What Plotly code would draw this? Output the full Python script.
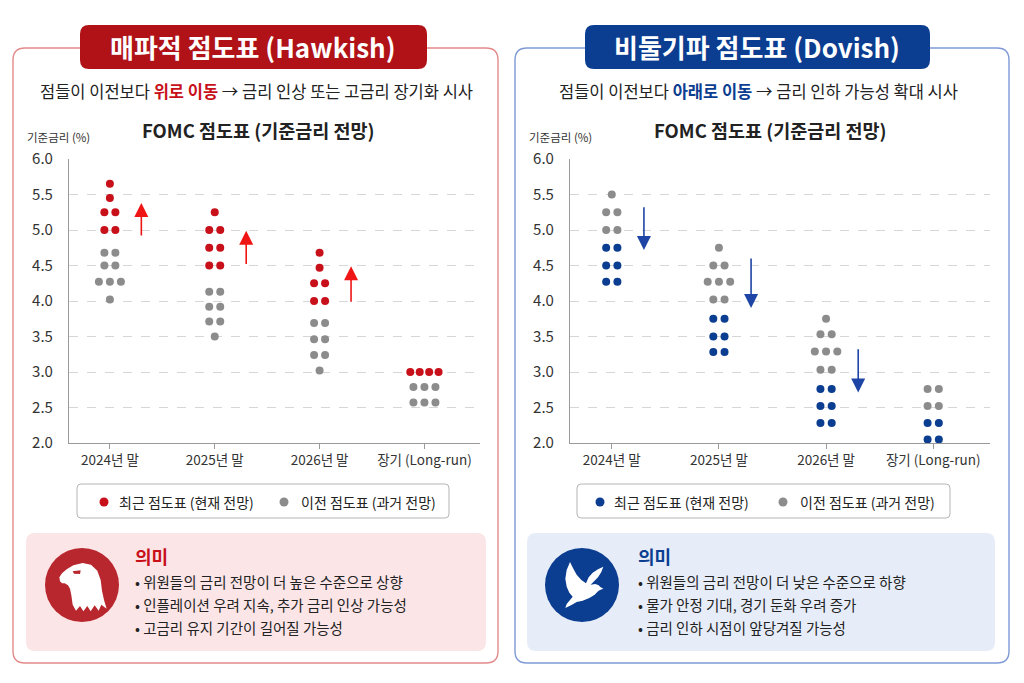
import plotly.graph_objects as go

W, H = 1024, 683
FONT = "Noto Sans CJK KR"

# ---- data ----
categories = ["2024년 말", "2025년 말", "2026년 말", "장기 (Long-run)"]
y_ticks = [2.0, 2.5, 3.0, 3.5, 4.0, 4.5, 5.0, 5.5, 6.0]

hawk_recent = [
    [5.65, 5.45, 5.25, 5.25, 5.0, 5.0],
    [5.25, 5.0, 5.0, 4.75, 4.75, 4.5, 4.5],
    [4.68, 4.47, 4.25, 4.25, 4.0, 4.0],
    [3.0, 3.0, 3.0, 3.0],
]
hawk_prior = [
    [4.68, 4.68, 4.5, 4.5, 4.27, 4.27, 4.27, 4.02],
    [4.13, 4.13, 3.92, 3.92, 3.71, 3.71, 3.5],
    [3.69, 3.69, 3.46, 3.46, 3.24, 3.24, 3.02],
    [2.79, 2.79, 2.79, 2.57, 2.57, 2.57],
]
dove_recent = [
    [4.75, 4.75, 4.5, 4.5, 4.27, 4.27],
    [3.75, 3.75, 3.5, 3.5, 3.28, 3.28],
    [2.76, 2.76, 2.52, 2.52, 2.28, 2.28],
    [2.28, 2.28, 2.05, 2.05],
]
dove_prior = [
    [5.5, 5.25, 5.25, 5.0, 5.0],
    [4.75, 4.5, 4.5, 4.27, 4.27, 4.27, 4.02, 4.02],
    [3.75, 3.53, 3.53, 3.29, 3.29, 3.29, 3.03, 3.03],
    [2.76, 2.76, 2.52, 2.52],
]

# arrows: from / to rate, one per year column
hawk_arrow_from = [4.9, 4.5, 3.97]
hawk_arrow_to = [5.38, 4.99, 4.49]
dove_arrow_from = [5.34, 4.62, 3.34]
dove_arrow_to = [4.72, 3.9, 2.71]

hawk_bullets = ["• 위원들의 금리 전망이 더 높은 수준으로 상향",
                "• 인플레이션 우려 지속, 추가 금리 인상 가능성",
                "• 고금리 유지 기간이 길어질 가능성"]
dove_bullets = ["• 위원들의 금리 전망이 더 낮은 수준으로 하향",
                "• 물가 안정 기대, 경기 둔화 우려 증가",
                "• 금리 인하 시점이 앞당겨질 가능성"]

RED = "#c8101a"
RED_DARK = "#b01218"
BLUE = "#0b3d91"
GREY = "#8c8c8c"
TXT = "#222222"


def X(p):
    return p / W


def Y(p):
    return 1 - p / H


def rrect(x0, y0, x1, y1, r):
    return (f"M{X(x0+r)},{Y(y0)} L{X(x1-r)},{Y(y0)} Q{X(x1)},{Y(y0)} {X(x1)},{Y(y0+r)} "
            f"L{X(x1)},{Y(y1-r)} Q{X(x1)},{Y(y1)} {X(x1-r)},{Y(y1)} "
            f"L{X(x0+r)},{Y(y1)} Q{X(x0)},{Y(y1)} {X(x0)},{Y(y1-r)} "
            f"L{X(x0)},{Y(y0+r)} Q{X(x0)},{Y(y0)} {X(x0+r)},{Y(y0)} Z")


def poly(pts, ox, oy):
    # icon outlines are traced at 3x scale
    s = "M" + " L".join(f"{X(ox + a / 3)},{Y(oy + b / 3)}" for a, b in pts)
    return s + " Z"


def spread(columns):
    xs, ys = [], []
    for i, col in enumerate(columns):
        groups = {}
        for v in col:
            groups.setdefault(round(v, 2), []).append(v)
        for v, g in groups.items():
            n = len(g)
            step = 0.105 if n < 4 else 0.09
            for k in range(n):
                xs.append(i + (k - (n - 1) / 2) * step)
                ys.append(v)
    return xs, ys


def note(x, y, text, size, color=TXT, xanchor="center"):
    return dict(x=X(x), y=Y(y), xref="paper", yref="paper", text=text, showarrow=False,
                xanchor=xanchor, yanchor="middle", font=dict(size=size, color=color, family=FONT))


fig = go.Figure()

for recent, prior, col, xa, ya in [(hawk_recent, hawk_prior, RED, "x", "y"),
                                   (dove_recent, dove_prior, BLUE, "x2", "y2")]:
    px_, py_ = spread(prior)
    fig.add_trace(go.Scatter(x=px_, y=py_, mode="markers", xaxis=xa, yaxis=ya,
                             marker=dict(color=GREY, size=8), showlegend=False))
    rx, ry = spread(recent)
    fig.add_trace(go.Scatter(x=rx, y=ry, mode="markers", xaxis=xa, yaxis=ya,
                             marker=dict(color=col, size=8), showlegend=False))

axis_x = dict(range=[-0.39, 3.53], tickvals=[0, 1, 2, 3], ticktext=categories,
              showgrid=False, showline=True, linecolor="#9a9a9a", linewidth=1.2,
              ticks="outside", ticklen=5, tickcolor="#9a9a9a", zeroline=False, automargin=False,
              tickfont=dict(size=13.5, color="#333", family=FONT), fixedrange=True)
axis_y = dict(range=[2.0, 6.0], tickvals=y_ticks, tickformat=".1f",
              showgrid=True, gridcolor="#d6d6d6", griddash="dash", gridwidth=1,
              showline=True, linecolor="#9a9a9a", linewidth=1.2, zeroline=False, automargin=False,
              ticks="", ticklabelstandoff=12,
              tickfont=dict(size=15, color="#333", family=FONT), fixedrange=True)

fig.update_layout(
    width=W, height=H, margin=dict(l=0, r=0, t=0, b=0, pad=0), autosize=False,
    paper_bgcolor="white", plot_bgcolor="rgba(0,0,0,0)", showlegend=False,
    font=dict(family=FONT, color=TXT),
    xaxis=dict(axis_x, domain=[X(69), X(480)], anchor="y"),
    yaxis=dict(axis_y, domain=[Y(443), Y(159)], anchor="x"),
    xaxis2=dict(axis_x, domain=[X(570), X(990)], anchor="y2"),
    yaxis2=dict(axis_y, domain=[Y(443), Y(159)], anchor="x2"),
)

shapes = []
ann = []

# panels
for (x0, x1, border, bx0, bx1, fillc, title, tcx, sub, scx, chart_cx,
     lx0, lx1, dotc, ldot1, ltxt1, ldot2, ltxt2,
     mx0, mx1, mfill, icx, iconc, mcol, mx, bullets) in [
    (13, 498, "#e38a8a", 80, 427, RED_DARK, "매파적 점도표 (Hawkish)", 253,
     f"점들이 이전보다 <span style='color:{RED}'><b>위로 이동</b></span> → 금리 인상 또는 고금리 장기화 시사", 256, 258,
     77, 449, RED, 104, 117, 284, 299,
     26, 486, "#fbe5e7", 82, "#b8272e", RED, 133, hawk_bullets),
    (515, 1009, "#7e9ad6", 585, 930, BLUE, "비둘기파 점도표 (Dovish)", 757,
     f"점들이 이전보다 <span style='color:{BLUE}'><b>아래로 이동</b></span> → 금리 인하 가능성 확대 시사", 758, 770,
     577, 950, BLUE, 600, 612, 783, 798,
     527, 995, "#e7edf8", 582, BLUE, BLUE, 636, dove_bullets),
]:
    shapes.append(dict(type="path", path=rrect(x0, 48, x1, 663, 12), xref="paper", yref="paper",
                       line=dict(color=border, width=1.4), fillcolor="rgba(0,0,0,0)", layer="below"))
    shapes.append(dict(type="path", path=rrect(bx0, 25, bx1, 69, 9), xref="paper", yref="paper",
                       line=dict(width=0), fillcolor=fillc, layer="above"))
    ann.append(note(tcx, 47, f"<b>{title}</b>", 26, "white"))
    ann.append(note(scx, 91, sub, 16.5))
    ann.append(note(chart_cx, 130, "<b>FOMC 점도표 (기준금리 전망)</b>", 18.5))
    ann.append(note(x0 + 12, 137, "기준금리 (%)", 11.5, "#333", "left"))
    # legend box
    shapes.append(dict(type="path", path=rrect(lx0, 484, lx1, 518, 4), xref="paper", yref="paper",
                       line=dict(color="#b5b5b5", width=1), fillcolor="white", layer="below"))
    for dx, tx, c, t in [(ldot1, ltxt1, dotc, "최근 점도표 (현재 전망)"),
                         (ldot2, ltxt2, GREY, "이전 점도표 (과거 전망)")]:
        shapes.append(dict(type="circle", xref="paper", yref="paper", x0=X(dx - 4.5), x1=X(dx + 4.5),
                           y0=Y(502 + 4.5), y1=Y(502 - 4.5), fillcolor=c, line=dict(width=0)))
        ann.append(note(tx, 502, t, 14, TXT, "left"))
    # meaning box
    shapes.append(dict(type="path", path=rrect(mx0, 533, mx1, 651, 9), xref="paper", yref="paper",
                       line=dict(width=0), fillcolor=mfill, layer="below"))
    shapes.append(dict(type="circle", xref="paper", yref="paper", x0=X(icx - 37), x1=X(icx + 37),
                       y0=Y(585 + 37), y1=Y(585 - 37), fillcolor=iconc, line=dict(width=0)))
    ann.append(note(mx, 556, "<b>의미</b>", 18, mcol, "left"))
    for k, b in enumerate(bullets):
        ann.append(note(mx, 581 + 23 * k, b, 14.5, TXT, "left"))

# eagle head (icon)
eagle = [(12, 70), (10, 58), (18, 46), (32, 34), (52, 22), (80, 15), (105, 20), (124, 38),
         (134, 66), (138, 98), (144, 126), (152, 152), (136, 140), (128, 158), (116, 142),
         (104, 160), (94, 144), (82, 160), (72, 144), (60, 158), (50, 140), (46, 112), (42, 92),
         (36, 82), (26, 76), (18, 76)]
shapes.append(dict(type="path", path=poly(eagle, 56, 558), xref="paper", yref="paper",
                   fillcolor="white", line=dict(width=0)))
shapes.append(dict(type="path", path=poly([(50, 40), (74, 37), (72, 48), (54, 47)], 56, 558),
                   xref="paper", yref="paper", fillcolor="#b8272e", line=dict(width=0)))

# dove (icon)
dove = [(42, 12), (52, 32), (62, 50), (76, 66), (90, 76), (98, 58), (110, 44), (126, 34),
        (142, 26), (136, 42), (126, 58), (112, 72), (104, 80), (118, 78), (128, 82), (133, 87),
        (142, 92), (132, 96), (126, 100), (116, 110), (100, 120), (80, 128), (62, 132),
        (48, 140), (28, 150), (32, 138), (42, 126), (50, 116), (40, 104), (32, 86), (28, 62),
        (32, 36)]
shapes.append(dict(type="path", path=poly(dove, 556, 558), xref="paper", yref="paper",
                   fillcolor="white", line=dict(width=0)))

# movement arrows
for frm, to, col, xa, ya in [(hawk_arrow_from, hawk_arrow_to, "#f01515", "x", "y"),
                             (dove_arrow_from, dove_arrow_to, "#1e45a5", "x2", "y2")]:
    for i, (a, b) in enumerate(zip(frm, to)):
        ann.append(dict(x=i + 0.3, y=b, ax=i + 0.3, ay=a, xref=xa, yref=ya, axref=xa, ayref=ya,
                        text="", showarrow=True, arrowhead=2, arrowsize=1.75, arrowwidth=1.6,
                        arrowcolor=col, standoff=0))

fig.update_layout(shapes=shapes, annotations=ann)
fig.write_html("out.html", config={"displayModeBar": False},
               post_script="document.body.style.margin='0';document.body.style.overflow='hidden';")
